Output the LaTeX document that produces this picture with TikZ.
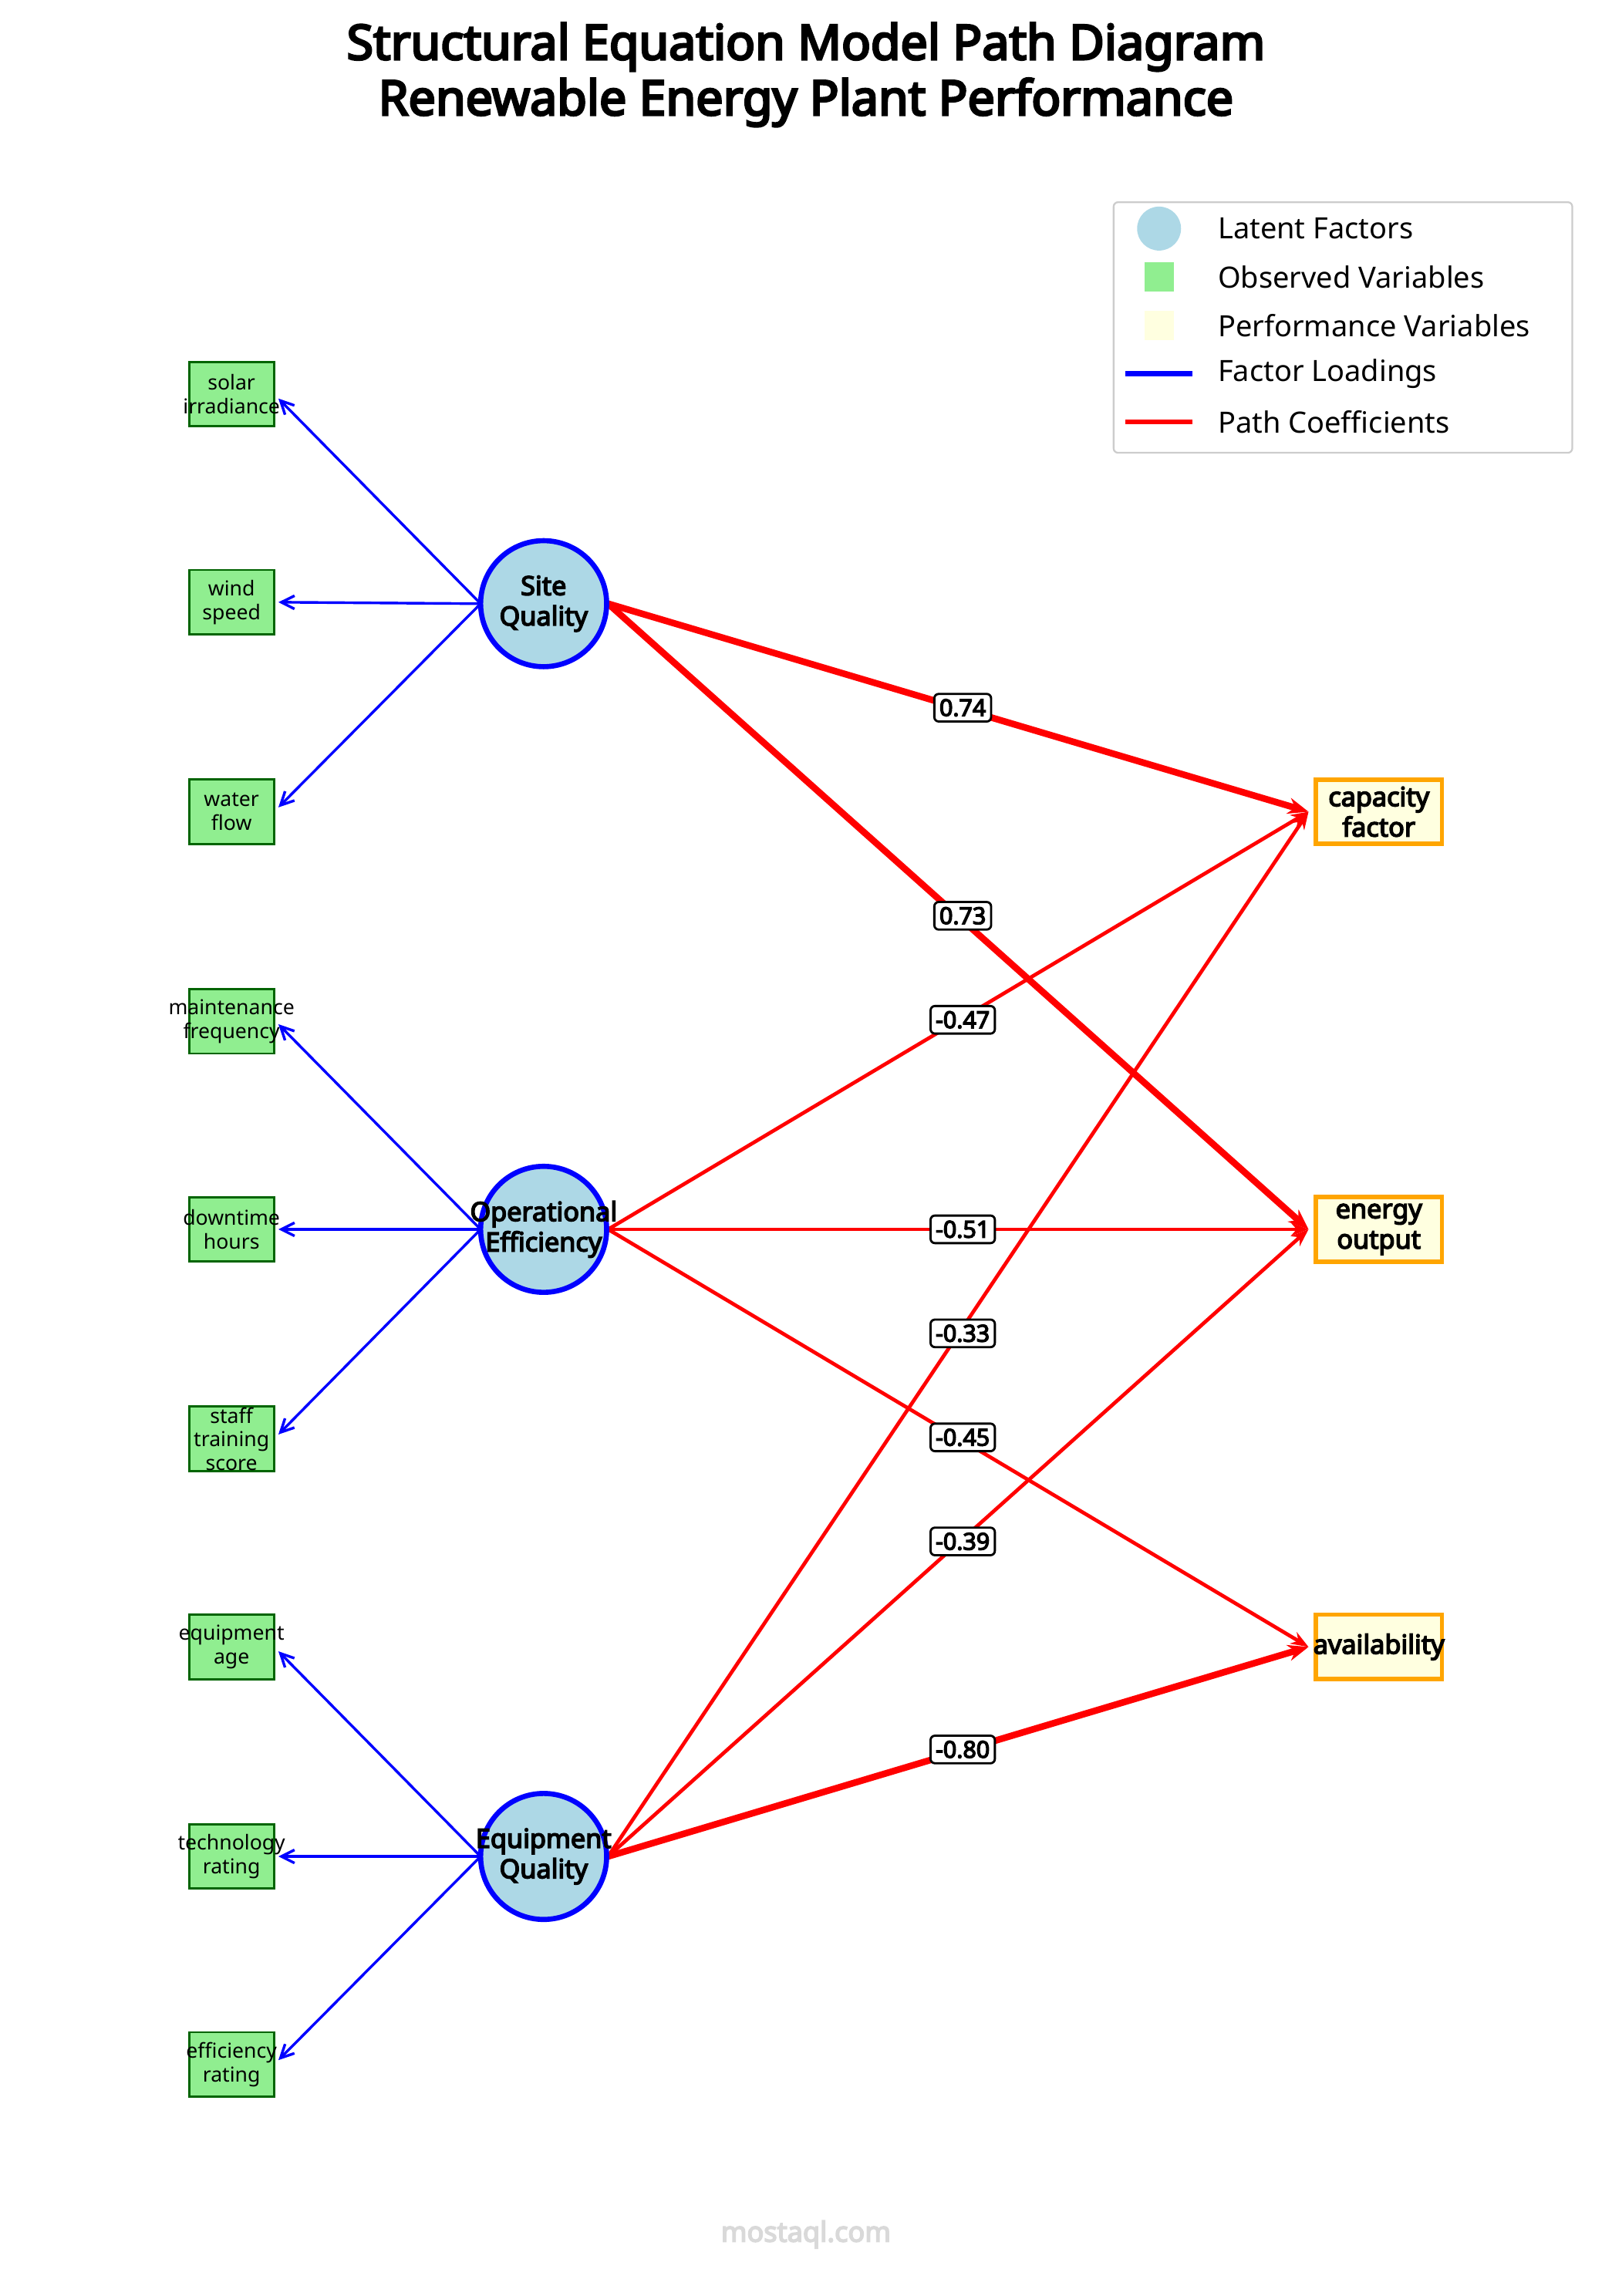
\documentclass[tikz,border=0pt]{standalone}
\usepackage{fontspec}
\setmainfont{Noto Sans}[BoldFont={Noto Sans},BoldFeatures={FakeBold=4.5}]
\usetikzlibrary{arrows.meta}
\definecolor{lat}{HTML}{ADD8E6}
\definecolor{obs}{HTML}{90EE90}
\definecolor{perf}{HTML}{FFFFE0}
\definecolor{dgreen}{HTML}{006400}
\definecolor{orng}{HTML}{FFA500}
\newcommand{\fs}[1]{\fontsize{#1}{\dimexpr #1pt*115/100\relax}\selectfont}
\begin{document}
\begin{tikzpicture}[x=1pt,y=-1pt,
 latent/.style={circle,draw=blue,line width=3.5pt,fill=lat,minimum size=86pt,inner sep=0pt,label={[align=center,font=\fs{18}\bfseries,inner sep=0pt]center:#1}},
 obsv/.style={draw=dgreen,line width=1.5pt,fill=obs,minimum width=58pt,minimum height=44pt,inner sep=0pt,label={[align=center,font=\fs{14},inner sep=0pt]center:#1}},
 perfv/.style={draw=orng,line width=3pt,fill=perf,minimum width=86pt,minimum height=44pt,inner sep=0pt,label={[align=center,font=\fs{18}\bfseries,inner sep=0pt]center:#1}},
 load/.style={blue,line width=1.8pt,-{Straight Barb[length=9pt,width=9pt]}},
 path/.style={red,line width=2.5pt,-{Stealth[length=12pt,width=9pt]}},
 strong/.style={red,line width=4.5pt,-{Stealth[length=14pt,width=11pt]}},
 coef/.style={draw=black,line width=1.5pt,fill=white,rounded corners=3pt,inner sep=3.5pt,font=\fs{16}\bfseries}]
\useasboundingbox (0,0) rectangle (1100,1567);
\node[font=\fs{33}\bfseries,align=center] (title) at (550,51) {Structural Equation Model Path Diagram\\Renewable Energy Plant Performance};
% observed
\node[obsv={solar\\irradiance}] (o1) at (158,269) {};
\node[obsv={wind\\speed}] (o2) at (158,411) {};
\node[obsv={water\\flow}] (o3) at (158,554) {};
\node[obsv={maintenance\\frequency}] (o4) at (158,697) {};
\node[obsv={downtime\\hours}] (o5) at (158,839) {};
\node[obsv={staff\\training\\score}] (o6) at (158,982) {};
\node[obsv={equipment\\age}] (o7) at (158,1124) {};
\node[obsv={technology\\rating}] (o8) at (158,1267) {};
\node[obsv={efficiency\\rating}] (o9) at (158,1409) {};
% performance
\node[perfv={capacity\\factor}] (p1) at (941,554) {};
\node[perfv={energy\\output}] (p2) at (941,839) {};
\node[perfv={availability}] (p3) at (941,1124) {};
% latent coordinates
\coordinate (sL) at (328,412); \coordinate (sR) at (415,412);
\coordinate (oL) at (328,839); \coordinate (oR) at (415,839);
\coordinate (eL) at (328,1267); \coordinate (eR) at (415,1267);
\coordinate (t1) at (893,554); \coordinate (t2) at (893,839); \coordinate (t3) at (893,1124);
% loadings
\coordinate (a1) at (190,272); \coordinate (a2) at (190,411); \coordinate (a3) at (190,551);
\coordinate (a4) at (190,699); \coordinate (a5) at (190,839); \coordinate (a6) at (190,979);
\coordinate (a7) at (190,1127); \coordinate (a8) at (190,1267); \coordinate (a9) at (190,1406);
\draw[load] (sL) -- (a1); \draw[load] (sL) -- (a2); \draw[load] (sL) -- (a3);
\draw[load] (oL) -- (a4); \draw[load] (oL) -- (a5); \draw[load] (oL) -- (a6);
\draw[load] (eL) -- (a7); \draw[load] (eL) -- (a8); \draw[load] (eL) -- (a9);
% paths
\draw[strong] (sR) -- (t1); \draw[strong] (sR) -- (t2);
\draw[path] (oR) -- (t1); \draw[path] (oR) -- (t2); \draw[path] (oR) -- (t3);
\draw[path] (eR) -- (t1); \draw[path] (eR) -- (t2); \draw[strong] (eR) -- (t3);
% latent nodes
\node[latent={Site\\Quality}] (s) at (371,412) {};
\node[latent={Operational\\Efficiency}] (op) at (371,839) {};
\node[latent={Equipment\\Quality}] (eq) at (371,1267) {};
% coefficients
\node[coef] (c1) at (657,483) {0.74};
\node[coef] (c2) at (657,625) {0.73};
\node[coef] (c3) at (657,696) {-0.47};
\node[coef] (c4) at (657,839) {-0.51};
\node[coef] (c5) at (657,910) {-0.33};
\node[coef] (c6) at (657,981) {-0.45};
\node[coef] (c7) at (657,1052) {-0.39};
\node[coef] (c8) at (657,1194) {-0.80};
% legend
\node[draw=black!20,line width=1.2pt,rounded corners=3pt,minimum width=313pt,minimum height=171pt] (leg) at (916.5,223.5) {};
\node[circle,fill=lat,minimum size=30pt,inner sep=0pt] (l1) at (791,156) {};
\node[fill=obs,minimum size=20pt,inner sep=0pt] (l2) at (791,189) {};
\node[fill=perf,minimum size=20pt,inner sep=0pt] (l3) at (791,222) {};
\coordinate (l4a) at (768,255); \coordinate (l4b) at (814,255);
\coordinate (l5a) at (768,288); \coordinate (l5b) at (814,288);
\draw[blue,line width=3.5pt] (l4a) -- (l4b);
\draw[red,line width=3.5pt] (l5a) -- (l5b);
\begin{scope}[every node/.style={anchor=west,font=\fs{20},inner sep=0pt}]
\node (lt1) at (831,156) {Latent Factors};
\node (lt2) at (831,189) {Observed Variables};
\node (lt3) at (831,222) {Performance Variables};
\node (lt4) at (831,255) {Factor Loadings};
\node (lt5) at (831,288) {Path Coefficients};
\end{scope}
\node[text=black!15,font=\fs{19}\bfseries] (wm) at (550,1525) {mostaql.com};
\end{tikzpicture}
\end{document}
